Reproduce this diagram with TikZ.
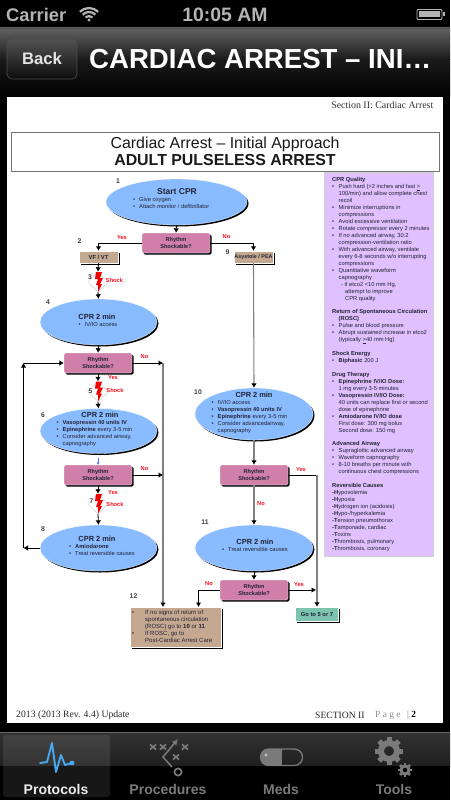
\documentclass[tikz,border=0pt]{standalone}
\usepackage{fontspec}
\setmainfont{Liberation Sans}
\newfontfamily\serifx{Liberation Serif}
\usetikzlibrary{arrows.meta,shapes.geometric,shadows,calc}
\definecolor{ell}{HTML}{88BBFF}
\definecolor{rhy}{HTML}{D080A8}
\definecolor{tan}{HTML}{C4A890}
\definecolor{pur}{HTML}{E0C0FF}
\definecolor{teal2}{HTML}{7CC4B0}
\definecolor{txt}{HTML}{222233}
\definecolor{lab}{HTML}{FF1020}
\definecolor{lin}{HTML}{808080}
\definecolor{stat}{HTML}{B4B4B4}
\definecolor{tabg}{HTML}{7A7A7A}
\definecolor{ecg}{HTML}{45A8F0}
\newcommand{\fs}[2]{\fontsize{#1}{#2}\selectfont}
\newcommand{\bl}[1]{\makebox[#1][l]{•}}
\tikzset{
 hard/.style={drop shadow={shadow xshift=1.5pt,shadow yshift=-1.5pt,fill=black,opacity=1}},
 ellbox/.style={ellipse,draw=white,line width=.3pt,fill=ell,inner sep=0pt,hard},
 rhybox/.style={rectangle,rounded corners=1.5pt,fill=rhy,draw=white,line width=.3pt,minimum width=68pt,minimum height=20pt,inner sep=0pt,hard,align=center,text=txt,font=\bfseries\fs{5.6}{7}},
 tanbox/.style={rectangle,fill=tan,draw=white,line width=.3pt,inner sep=0pt,hard,text=txt},
 head/.style={font=\bfseries\fs{8.5}{10},text=txt,inner sep=0pt},
 headb/.style={font=\bfseries\fs{7.4}{9},text=txt,inner sep=0pt},
 bull/.style={font=\fs{5.75}{7},text=txt,inner sep=0pt,anchor=north west,align=left},
 num/.style={font=\bfseries\fs{6.8}{7},text=black!75,inner sep=0pt},
 red/.style={font=\bfseries\fs{5.7}{6},text=lab,inner sep=0pt},
 dia/.style={diamond,draw=black!20,line width=.4pt,minimum width=21pt,minimum height=20pt,inner sep=0pt},
 bolt/.style={fill=red!95!black,draw=none},
 arr/.style={-{Latex[length=4.5pt,width=5.5pt]},line width=.85pt,black},
 garr/.style={-{Latex[length=4.5pt,width=5.5pt,color=black]},line width=1.1pt,lin},
 tablab/.style={font=\bfseries\fs{14}{15},inner sep=0pt},
}
\begin{document}
\begin{tikzpicture}[x=1pt,y=-1pt]
\useasboundingbox (0,0) rectangle (450,800);
\fill[black] (0,0) rectangle (450,800);
% nav bar
\shade[top color=black!62,bottom color=black!90] (0,28) rectangle (450,60);
\shade[top color=black!90,bottom color=black] (0,60) rectangle (450,97);
\fill[black!70] (0,28) rectangle (450,29);
% status bar
\node[font=\bfseries\fs{18.3}{20},text=stat,inner sep=0pt,anchor=west] (carrier) at (6,14.5) {Carrier};
\node[font=\bfseries\fs{19.4}{20},text=stat,inner sep=0pt] (clock) at (225,14.5) {10:05 AM};
\foreach \r/\w in {5/2.2,9/2.2,13/2.2}{\draw[stat,line width=\w pt] (89,21)++(225:\r) arc (225:315:\r);}
\fill[stat] (89,20) circle (1.6);
\draw[stat,line width=.8pt,rounded corners=1pt] (417,9.5) rectangle (442,19.5);
\fill[stat] (419,11.5) rectangle (440,17.5);
\fill[stat] (442.5,12.5) rectangle (444.5,16.5);
% nav controls
\shade[top color=black!68,bottom color=black!95,draw=black!70,line width=.6pt,rounded corners=5pt] (7,39) rectangle (77,79);
\node[font=\bfseries\fs{16.7}{18},text=white!90!black,inner sep=0pt] (back) at (42,58.5) {Back};
\node[font=\bfseries\fs{27.6}{30},text=white,inner sep=0pt,anchor=west] (navt) at (89,58.5) {CARDIAC ARREST – INI…};
% page
\fill[white] (7,97) rectangle (443,723);
\node[font=\serifx\fs{9.9}{11},text=black!80,inner sep=0pt,anchor=east] (sect) at (433.5,105.5) {Section II: Cardiac Arrest};
\node[draw=black!55,line width=.6pt,minimum width=428pt,minimum height=39pt,inner sep=0pt,align=center,text=black!90] (title) at (225,151.5) {\fs{15.9}{18}Cardiac Arrest – Initial Approach\\[1pt]\bfseries\fs{15.9}{18}ADULT PULSELESS ARREST};
% panel
\node[fill=pur,draw=black!18,line width=.4pt,minimum width=109pt,minimum height=384pt,inner sep=0pt,anchor=north west] (panel) at (323.5,172) {};
\node[font=\fs{5.75}{6.95},text=txt,inner sep=0pt,anchor=north west,align=left] (ptext) at (332,177.5) {%
\textbf{CPR Quality}\\
\bl{6.5pt}Push hard (>2 inches and fast \underline{>}\\
\hspace*{6.5pt}100/min) and allow complete chest\\
\hspace*{6.5pt}recoil\\
\bl{6.5pt}Minimize interruptions in\\
\hspace*{6.5pt}compressions\\
\bl{6.5pt}Avoid excessive ventilation\\
\bl{6.5pt}Rotate compressor every 2 minutes\\
\bl{6.5pt}If no advanced airway, 30:2\\
\hspace*{6.5pt}compression-ventilation ratio\\
\bl{6.5pt}With advanced airway, ventilate\\
\hspace*{6.5pt}every 6-8 seconds w/o interrupting\\
\hspace*{6.5pt}compressions\\
\bl{6.5pt}Quantitative waveform\\
\hspace*{6.5pt}capnography\\
\hspace*{9pt}- if etco2 <10 mm Hg,\\
\hspace*{13pt}attempt to improve\\
\hspace*{13pt}CPR quality\\[6.95pt]
\textbf{Return of Spontaneous Circulation}\\
\hspace*{6.5pt}\textbf{(ROSC)}\\
\bl{6.5pt}Pulse and blood pressure\\
\bl{6.5pt}Abrupt sustained increase in etco2\\
\hspace*{6.5pt}(typically \underline{>}40 mm Hg)\\[6.95pt]
\textbf{Shock Energy}\\
\bl{6.5pt}\textbf{Biphasic} 200 J\\[6.95pt]
\textbf{Drug Therapy}\\
\bl{6.5pt}\textbf{Epinephrine IV/IO Dose:}\\
\hspace*{6.5pt}1 mg every 3-5 minutes\\
\bl{6.5pt}\textbf{Vasopressin IV/IO Dose:}\\
\hspace*{6.5pt}40 units can replace first or second\\
\hspace*{6.5pt}dose of epinephrine\\
\bl{6.5pt}\textbf{Amiodarone IV/IO dose}\\
\hspace*{6.5pt}First dose: 300 mg bolus\\
\hspace*{6.5pt}Second dose: 150 mg\\[6.95pt]
\textbf{Advanced Airway}\\
\bl{6.5pt}Supraglottic advanced airway\\
\bl{6.5pt}Waveform capnography\\
\bl{6.5pt}8-10 breaths per minute with\\
\hspace*{6.5pt}continuous chest compressions\\[6.95pt]
\textbf{Reversible Causes}\\
\textbf{-H}ypovolemia\\
\textbf{-H}ypoxia\\
\textbf{-H}ydrogen ion (acidosis)\\
\textbf{-H}ypo-/hyperkalemia\\
\textbf{-T}ension pneumothorax\\
\textbf{-T}amponade, cardiac\\
\textbf{-T}oxins\\
\textbf{-T}hrombosis, pulmonary\\
\textbf{-T}hrombosis, coronary};
% shapes
\node[ellbox,minimum width=141pt,minimum height=46pt] (e1) at (176.5,202) {};
\node[rhybox] (r1) at (176,243) {Rhythm\\Shockable?};
\node[tanbox,minimum width=39pt,minimum height=12pt,font=\bfseries\fs{5.8}{6}] (vf) at (98.5,257) {VF / VT};
\node[tanbox,minimum width=39pt,minimum height=12pt,font=\bfseries\fs{5.4}{6}] (as) at (253.5,257) {Asystole / PEA};
\node[dia] (d3) at (98,282) {};
\node[ellbox,minimum width=117pt,minimum height=46pt] (e4) at (98.5,322) {};
\node[rhybox] (r2) at (98,363) {Rhythm\\Shockable?};
\node[dia] (d5) at (98,391.5) {};
\node[ellbox,minimum width=117pt,minimum height=45pt] (e6) at (98.5,431) {};
\node[rhybox] (r3) at (98,475) {Rhythm\\Shockable?};
\node[dia] (d7) at (98,504) {};
\node[ellbox,minimum width=117pt,minimum height=46pt] (e8) at (98.5,548) {};
\node[ellbox,minimum width=118pt,minimum height=52pt] (e10) at (254,414) {};
\node[rhybox] (r4) at (254,475) {Rhythm\\Shockable?};
\node[ellbox,minimum width=118pt,minimum height=46pt] (e11) at (254,548) {};
\node[rhybox] (r5) at (254,590) {Rhythm\\Shockable?};
\node[tanbox,minimum width=91pt,minimum height=40pt] (b12) at (175.5,627) {};
\node[rectangle,fill=teal2,draw=white,line width=.3pt,inner sep=0pt,hard,minimum width=43pt,minimum height=14pt,font=\bfseries\fs{5.8}{6},text=txt] (go) at (317,614) {Go to 5 or 7};
% bolts
\fill[bolt] (96,272) -- (102,272) -- (100,278) -- (103,278) -- (100,284) -- (102,284) -- (98,292) -- (98,285) -- (96,285) -- (98,279) -- (95,279) -- cycle;
\fill[bolt] (96,381.5) -- (102,381.5) -- (100,387.5) -- (103,387.5) -- (100,393.5) -- (102,393.5) -- (98,401.5) -- (98,394.5) -- (96,394.5) -- (98,388.5) -- (95,388.5) -- cycle;
\fill[bolt] (96,494) -- (102,494) -- (100,500) -- (103,500) -- (100,506) -- (102,506) -- (98,514) -- (98,507) -- (96,507) -- (98,501) -- (95,501) -- cycle;
% ellipse text
\node[head] (t1) at (177,191.5) {Start CPR};
\node[bull] (b1) at (133,197) {\bl{6pt}Give oxygen\\\bl{6pt}Attach monitor / defibrillator};
\node[headb] (t4) at (97,317) {CPR 2 min};
\node[bull] (b4) at (78.5,322) {\bl{6pt}IV/IO access};
\node[headb] (t6) at (100,415) {CPR 2 min};
\node[bull] (b6) at (56.5,420) {\bl{6pt}\textbf{Vasopressin 40 units IV}\\\bl{6pt}\textbf{Epinephrine} every 3-5 min\\\bl{6pt}Consider advanced airway,\\\hspace*{6pt}capnography};
\node[headb] (t8) at (97,539) {CPR 2 min};
\node[bull] (b8) at (69,544) {\bl{6pt}\textbf{Amiodarone}\\\bl{6pt}Treat reversible causes};
\node[headb] (t10) at (254,395) {CPR 2 min};
\node[bull] (b10) at (211.5,400) {\bl{6pt}IV/IO access\\\bl{6pt}\textbf{Vasopressin 40 units IV}\\\bl{6pt}\textbf{Epinephrine} every 3-5 min\\\bl{6pt}Consider advancedairway,\\\hspace*{6pt}capnography};
\node[headb] (t11) at (255,542) {CPR 2 min};
\node[bull] (b11) at (222,547) {\bl{6pt}Treat reversible causes};
\node[bull,font=\fs{6}{7}] (b12t) at (132,609.5) {\bl{13pt}If no signs of return of\\\hspace*{13pt}spontaneous circulation\\\hspace*{13pt}(ROSC) go to \textbf{10} or \textbf{11}\\\bl{13pt}If ROSC, go to\\\hspace*{13pt}Post-Cardiac Arrest Care};
% numbers
\node[num] (n1) at (118,181) {1};
\node[num] (n2) at (79.5,241.5) {2};
\node[num] (n9) at (227.5,252.5) {9};
\node[num] (n3) at (90,277) {3};
\node[num] (n4) at (48,302.5) {4};
\node[num] (n5) at (90.5,391) {5};
\node[num] (n6) at (43,415.5) {6};
\node[num] (n7) at (91.5,501) {7};
\node[num] (n8) at (43,529.5) {8};
\node[num] (n10) at (198,392.5) {10};
\node[num] (n11) at (205,522) {11};
\node[num] (n12) at (133.5,596.5) {12};
% connectors
\coordinate (lb) at (23.5,548);
\coordinate (lm) at (23.5,363);
\coordinate (j2) at (163,363);
\coordinate (j3) at (163,475);
\coordinate (j12) at (163,607);
\coordinate (j5) at (316,590);
\coordinate (k12) at (198.5,607);
\coordinate (blu) at (98,458);
\draw[arr] (e1.south) -- (r1.north);
\draw[arr] (r1.west) -| (vf.north);
\draw[arr] (r1.east) -| (as.north);
\draw[arr] (vf.south) -- (d3.north);
\draw[arr] (d3.south) -- (e4.north);
\draw[arr] (e4.south) -- (r2.north);
\draw[arr] (r2.south) -- (d5.north);
\draw[arr] (d5.south) -- (e6.north);
\draw[-{Latex[length=2.5pt,width=3pt]},line width=.3pt,ell!60!blue] (blu) -- (r3.north);
\draw[arr] (r3.south) -- (d7.north);
\draw[arr] (d7.south) -- (e8.north);
\draw[arr] (e8.west) -- (lb);
\draw[arr] (lb) -- (lm);
\draw[arr] (lm) -- (r2.west);
\draw[garr] (as.south) -- (e10.north);
\draw[garr] (e10.south) -- (r4.north);
\draw[garr] (r4.south) -- (e11.north);
\draw[arr] (e11.south) -- (r5.north);
\draw[garr] (j2) -- (j12);
\draw[arr] (r2.east) -- (j2);
\draw[arr] (r3.east) -- (j3);
\draw[line width=.85pt] (r4.east) -- (r4.east -| go.north);
\draw[garr] (r4.east -| go.north) -- (go.north);
\draw[arr] (r5.east) -- (j5);
\draw[arr] (r5.west) -| (k12);
% connector labels
\node[red] (y1) at (122,238) {Yes};
\node[red] (x1) at (226.5,236.5) {No};
\node[red] (s3) at (114.5,280) {Shock};
\node[red] (x2) at (144.5,356.5) {No};
\node[red] (y2) at (113,378) {Yes};
\node[red] (s5) at (115,390) {Shock};
\node[red] (x3) at (144.5,468.5) {No};
\node[red] (y3) at (113,492.5) {Yes};
\node[red] (s7) at (115,504) {Shock};
\node[red] (y4) at (301,470) {Yes};
\node[red] (x4) at (261,504) {No};
\node[red] (x5) at (209,583.5) {No};
\node[red] (y5) at (299,585) {Yes};
% footer
\node[font=\serifx\fs{9.7}{10},text=black!85,inner sep=0pt,anchor=west] (f1) at (16,715) {2013 (2013 Rev. 4.4) Update};
\node[font=\serifx\fs{9.6}{10},text=black!85,inner sep=0pt,anchor=west] (f2) at (315,715) {SECTION II};
\node[font=\serifx\fs{9.4}{10},text=black!45,inner sep=0pt,anchor=west] (f3) at (375,715) {P a g e};
\node[font=\serifx\fs{9.4}{10},text=black,inner sep=0pt,anchor=west] (f4) at (407,715) {{\color{black!50}|} \textbf{2}};
% tab bar
\shade[top color=black!80,bottom color=black!88] (0,732) rectangle (450,766);
\fill[black] (0,766) rectangle (450,800);
\fill[black!60] (0,732) rectangle (450,733);
\fill[white,opacity=.09,rounded corners=3pt] (3,735) rectangle (110,797);
% ECG icon
\draw[line width=1.9pt,color=ecg,line join=round,line cap=round] (40,763) -- (47,762) -- (52,743) -- (56,772) -- (61,755) -- (65,765) -- (72,763);
\fill[ecg] (72,763) circle (2.4);
\node[tablab,text=white!92!black] (tp) at (56,789.5) {Protocols};
% procedures icon
\foreach \p in {(153,747),(163,747),(185,747),(176,757)}{\draw[tabg,line width=1.7pt] \p ++(-3,-2.5) -- ++(6,5) \p ++(-3,2.5) -- ++(6,-5);}
\draw[tabg,line width=1.7pt] (178,772) circle (3.6);
\draw[tabg,line width=1.5pt,-{Latex[length=6pt,width=6pt]}] (172,767) -- (163,757) -- (178,739);
\node[tablab,text=tabg] (tq) at (168,789.5) {Procedures};
% pill icon
\begin{scope}
\clip[rounded corners=8.2pt] (260.5,749) rectangle (302.5,765.5);
\fill[tabg] (260.5,749) rectangle (281.5,765.5);
\end{scope}
\draw[tabg,line width=1.3pt,rounded corners=8.2pt] (260.5,749) rectangle (302.5,765.5);
\fill[black!25] (266,755) circle (1.6);
\node[tablab,text=tabg] (tm) at (281,789.5) {Meds};
% tools icon
\foreach \a in {0,45,...,315}{\draw[tabg,line width=5pt] (389,751)+(\a:8) -- +(\a:14);}
\draw[tabg,line width=6pt] (389,751) circle (8);
\foreach \a in {0,45,...,315}{\draw[tabg,line width=2.6pt] (405,770)+(\a:4) -- +(\a:7);}
\draw[tabg,line width=3pt] (405,770) circle (4);
\node[tablab,text=tabg] (tt) at (394,789.5) {Tools};
\end{tikzpicture}
\end{document}
